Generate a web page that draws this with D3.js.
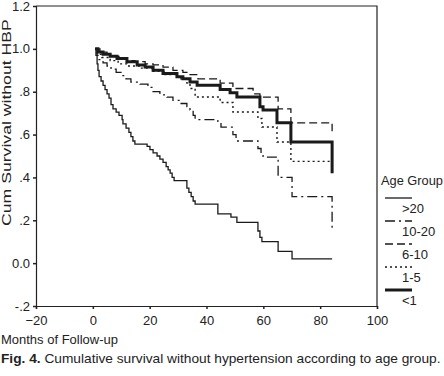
<!DOCTYPE html>
<html>
<head>
<meta charset="utf-8">
<script src="https://cdn.jsdelivr.net/npm/d3@7"></script>
<style>
    body { margin: 0; background: #fff; }
    text { font-family: "Liberation Sans", Arial, sans-serif; fill: #222; }
</style>
</head>
<body>
<svg id="km_svg" width="444" height="376"></svg>
<script>
// [month, cumulative survival] at each step
var groupOver20 = [[0.8, 1.0], [1.1, 0.97], [1.5, 0.93], [1.8, 0.90], [2.2, 0.87], [2.9, 0.85], [3.6, 0.83], [4.3, 0.81],
    [5.0, 0.79], [5.7, 0.77], [6.4, 0.74], [7.1, 0.72], [8.2, 0.705], [9.2, 0.69], [10.3, 0.67], [10.6, 0.65], [11.7, 0.63],
    [12.7, 0.61], [13.4, 0.59], [14.1, 0.57], [14.8, 0.555], [19.1, 0.545], [20.1, 0.53], [21.2, 0.515], [22.6, 0.50],
    [23.6, 0.485], [24.7, 0.47], [25.8, 0.45], [26.5, 0.435], [27.2, 0.42], [27.9, 0.40], [28.6, 0.385], [33.1, 0.35],
    [33.8, 0.33], [34.6, 0.31], [35.3, 0.29], [36.0, 0.275], [44.0, 0.23], [48.6, 0.215], [50.7, 0.19], [58.1, 0.15],
    [58.8, 0.12], [59.5, 0.10], [65.2, 0.055], [70.1, 0.02]]
var group10to20 = [[0.8, 1.0], [1.5, 0.97], [2.2, 0.95], [3.6, 0.935], [5.0, 0.92], [6.4, 0.905], [8.2, 0.89], [9.9, 0.875],
    [11.7, 0.86], [13.4, 0.845], [16.6, 0.835], [19.4, 0.82], [21.2, 0.80], [23.6, 0.785], [26.1, 0.775], [28.2, 0.76],
    [30.7, 0.745], [33.1, 0.73], [34.2, 0.715], [35.3, 0.69], [36.0, 0.67], [44.0, 0.655], [45.1, 0.635], [49.3, 0.60],
    [50.4, 0.57], [58.1, 0.535], [59.2, 0.51], [59.9, 0.495], [65.2, 0.40], [70.1, 0.31], [84.2, 0.16]]
var group6to10 = [[0.8, 1.0], [2.5, 0.985], [5.0, 0.975], [7.1, 0.965], [9.6, 0.955], [12.0, 0.945], [14.8, 0.94], [18.4, 0.93],
    [21.2, 0.925], [24.7, 0.915], [28.2, 0.90], [31.7, 0.89], [34.2, 0.88], [37.0, 0.86], [44.8, 0.84], [49.3, 0.815],
    [56.4, 0.79], [58.8, 0.775], [65.2, 0.72], [69.7, 0.655], [84.2, 0.615]]
var group1to5 = [[0.8, 1.0], [1.5, 0.975], [3.2, 0.96], [6.1, 0.945], [8.9, 0.93], [12.0, 0.92], [16.6, 0.91], [21.2, 0.895],
    [25.4, 0.88], [30.0, 0.86], [33.1, 0.84], [34.2, 0.815], [36.0, 0.775], [44.8, 0.75], [49.3, 0.705], [58.1, 0.675],
    [59.5, 0.635], [64.8, 0.565], [69.7, 0.475]]
var groupUnder1 = [[0.8, 1.0], [1.8, 0.985], [3.6, 0.975], [6.1, 0.965], [8.5, 0.955], [12.0, 0.94], [15.6, 0.925], [18.4, 0.915],
    [21.2, 0.90], [24.7, 0.885], [29.6, 0.87], [31.7, 0.86], [34.2, 0.845], [36.7, 0.83], [44.8, 0.81], [48.3, 0.795],
    [50.7, 0.775], [58.8, 0.73], [59.9, 0.715], [64.8, 0.655], [69.7, 0.565], [84.2, 0.42]]

var lastMonth = 84.2
var groupNames = [">20", "10-20", "6-10", "1-5", "<1"]
var groupData = [groupOver20, group10to20, group6to10, group1to5, groupUnder1]
var xTicks = [-20, 0, 20, 40, 60, 80, 100]
var yTicks = [-0.2, 0, 0.2, 0.4, 0.6, 0.8, 1.0, 1.2]
var yTickLabels = ["-.2", "0.0", ".2", ".4", ".6", ".8", "1.0", "1.2"]

var lineStyles = {
    ">20": { width: 1.3, dash: null },
    "10-20": { width: 1.3, dash: "10,4,2,4" },
    "6-10": { width: 1.3, dash: "8,4" },
    "1-5": { width: 1.4, dash: "2,3" },
    "<1": { width: 3, dash: null }
}

document.addEventListener('DOMContentLoaded', function () {
    drawChart()
})

// stretch a text along its own direction so it covers `width` px
function stretchText(sel, baseTransform, width) {
    let w = sel.node().getComputedTextLength()
    sel.attr("transform", `${baseTransform} scale(${width / w},1)`)
}

function drawChart() {
    const svg = d3.select("#km_svg")

    let x = d3.scaleLinear().domain([-20, 100]).range([36, 377])
    let y = d3.scaleLinear().domain([-0.2, 1.2]).range([306, 6])

    // frame: top and right edges
    svg.append("path")
        .attr("d", `M${x(-20)},${y(1.2)}H${x(100)}V${y(-0.2)}`)
        .style("fill", "none")
        .style("stroke", "#222")
        .style("stroke-width", 1.2)

    let xAxis = svg.append("g")
        .attr("transform", `translate(0,${y(-0.2)})`)
        .call(d3.axisBottom(x).tickValues(xTicks).tickSize(3).tickPadding(4))
    xAxis.selectAll("text").style("font-size", "13px").attr("dy", "0.95em")

    // y axis: line + ticks from the axis, labels written separately
    svg.append("g")
        .attr("transform", `translate(${x(-20)},0)`)
        .call(d3.axisLeft(y).tickValues(yTicks).tickSize(3).tickFormat(""))

    svg.append("g")
        .selectAll("text")
        .data(yTicks)
        .join("text")
        .text((d, i) => yTickLabels[i])
        .attr("x", 30)
        .attr("y", d => y(d))
        .attr("dy", "0.35em")
        .attr("text-anchor", "end")
        .style("font-size", "13px")

    svg.selectAll(".domain").style("stroke", "#222").style("stroke-width", 1.2)
    svg.selectAll(".tick line").style("stroke", "#222").style("stroke-width", 1.5)

    let line = d3.line()
        .x(d => x(d[0]))
        .y(d => y(d[1]))
        .curve(d3.curveStepAfter)

    groupData.forEach((pts, i) => {
        let name = groupNames[i]
        let data = pts.slice()
        let last = data[data.length - 1]
        if (last[0] < lastMonth) data.push([lastMonth, last[1]])
        svg.append("path")
            .datum(data)
            .attr("d", line)
            .style("fill", "none")
            .style("stroke", "#1a1a1a")
            .style("stroke-width", lineStyles[name].width)
            .style("stroke-dasharray", lineStyles[name].dash)
    })

    // axis titles
    let yTitle = svg.append("text")
        .text("Cum Survival without HBP")
        .style("font-size", "12px")
    stretchText(yTitle, "translate(11,226) rotate(-90)", 207)

    let xTitle = svg.append("text")
        .text("Months of Follow-up")
        .style("font-size", "12px")
    stretchText(xTitle, "translate(1,344)", 117)

    // legend
    let legend = svg.append("g")
    let lgTitle = legend.append("text")
        .text("Age Group")
        .style("font-size", "13px")
    stretchText(lgTitle, "translate(381,185)", 62)

    groupNames.forEach((name, i) => {
        let ly = 198 + i * 23
        legend.append("line")
            .attr("x1", 385).attr("x2", 412)
            .attr("y1", ly).attr("y2", ly)
            .style("stroke", "#1a1a1a")
            .style("stroke-width", lineStyles[name].width)
            .style("stroke-dasharray", lineStyles[name].dash)
        legend.append("text")
            .text(name)
            .attr("x", 402)
            .attr("y", ly + 15)
            .style("font-size", "13px")
    })

    // caption
    let cap = svg.append("text")
        .style("font-size", "12px")
    cap.append("tspan").text("Fig. 4.").style("font-weight", "bold")
    cap.append("tspan").text(" Cumulative survival without hypertension according to age group.")
    stretchText(cap, "translate(1,363)", 440)
}
</script>
</body>
</html>
